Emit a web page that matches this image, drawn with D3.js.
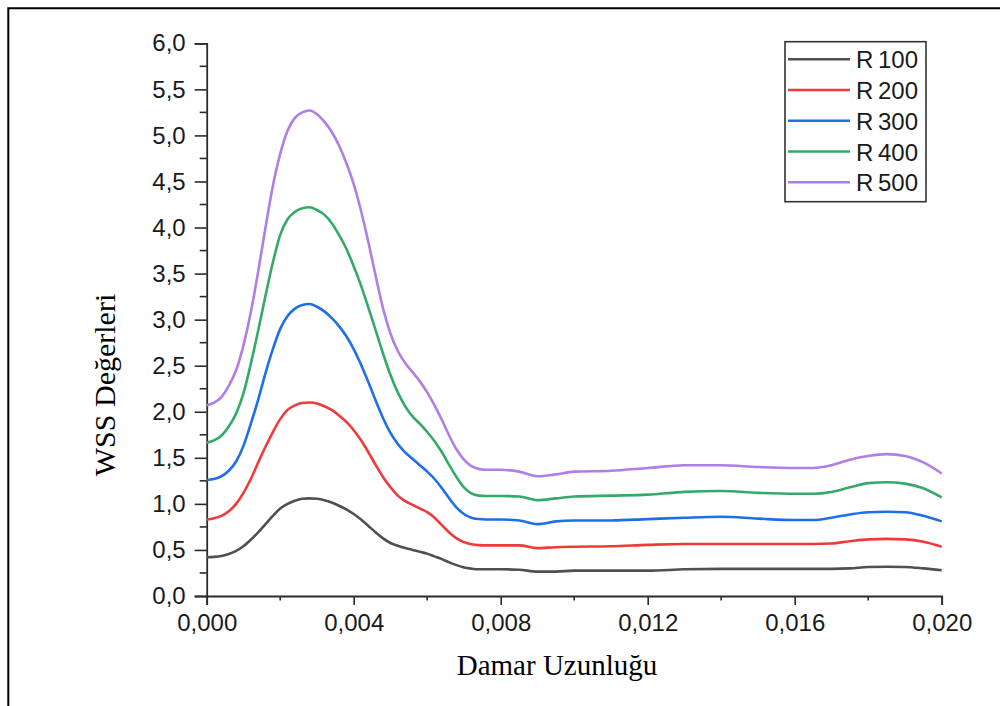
<!DOCTYPE html>
<html><head><meta charset="utf-8">
<script src="https://cdn.jsdelivr.net/npm/d3@7/dist/d3.min.js"></script>
<style>
html,body{margin:0;padding:0;background:#fff;}
svg{display:block;}
.tick-label{font-family:"Liberation Sans",Arial,sans-serif;font-size:24px;fill:#1a1a1a;}
.axis-title{font-family:"Liberation Serif","Times New Roman",serif;fill:#000;}
.legend-label{font-family:"Liberation Sans",Arial,sans-serif;font-size:24px;fill:#1a1a1a;word-spacing:-2px;}
</style></head>
<body>
<script>
// ---- data ----
const xValues = [0,0.0002,0.0004,0.0006,0.0008,0.001,0.0012,0.0014,0.0016,0.0018,0.002,0.0022,0.0024,0.0026,0.0028,0.003,0.0032,0.0034,0.0036,0.0038,0.004,0.0042,0.0044,0.0046,0.0048,0.005,0.0052,0.0054,0.0056,0.0058,0.006,0.0062,0.0064,0.0066,0.0068,0.007,0.0072,0.0074,0.0076,0.008,0.0085,0.009,0.0095,0.010,0.011,0.012,0.013,0.014,0.015,0.016,0.0165,0.017,0.0175,0.018,0.0185,0.019,0.0195,0.020];
const r100 = [0.42,0.425,0.435,0.455,0.49,0.54,0.61,0.69,0.78,0.87,0.95,1.00,1.035,1.055,1.06,1.055,1.04,1.015,0.98,0.94,0.89,0.83,0.76,0.69,0.625,0.575,0.545,0.52,0.50,0.48,0.46,0.43,0.40,0.365,0.335,0.31,0.297,0.29,0.29,0.29,0.285,0.265,0.265,0.275,0.275,0.275,0.29,0.295,0.295,0.295,0.295,0.295,0.30,0.315,0.318,0.315,0.30,0.28];
const r200 = [0.83,0.845,0.87,0.92,1.00,1.12,1.27,1.45,1.62,1.78,1.92,2.02,2.07,2.095,2.10,2.09,2.06,2.02,1.96,1.89,1.80,1.69,1.56,1.42,1.29,1.18,1.09,1.03,0.99,0.95,0.91,0.85,0.77,0.69,0.625,0.585,0.562,0.552,0.55,0.55,0.55,0.52,0.53,0.535,0.54,0.555,0.565,0.565,0.565,0.565,0.565,0.57,0.595,0.615,0.62,0.615,0.59,0.535];
const r300 = [1.26,1.27,1.30,1.36,1.46,1.63,1.87,2.13,2.42,2.68,2.90,3.04,3.12,3.16,3.17,3.14,3.09,3.02,2.93,2.82,2.68,2.51,2.32,2.12,1.93,1.77,1.65,1.56,1.49,1.42,1.35,1.27,1.17,1.06,0.96,0.89,0.85,0.835,0.83,0.83,0.82,0.78,0.81,0.82,0.82,0.835,0.85,0.86,0.84,0.825,0.825,0.85,0.885,0.91,0.915,0.91,0.87,0.81];
const r400 = [1.665,1.69,1.74,1.84,1.98,2.20,2.52,2.88,3.26,3.62,3.92,4.09,4.17,4.21,4.22,4.19,4.14,4.05,3.92,3.77,3.58,3.37,3.13,2.88,2.63,2.40,2.21,2.06,1.95,1.87,1.78,1.68,1.56,1.42,1.29,1.18,1.115,1.09,1.085,1.085,1.08,1.04,1.06,1.08,1.09,1.10,1.13,1.14,1.12,1.11,1.11,1.13,1.18,1.225,1.235,1.22,1.17,1.07];
const r500 = [2.07,2.10,2.16,2.28,2.45,2.72,3.08,3.52,4.00,4.45,4.80,5.05,5.19,5.25,5.27,5.23,5.15,5.04,4.89,4.70,4.47,4.18,3.84,3.47,3.12,2.85,2.66,2.53,2.43,2.33,2.21,2.07,1.91,1.74,1.59,1.48,1.41,1.38,1.37,1.37,1.35,1.30,1.32,1.35,1.36,1.39,1.42,1.42,1.40,1.39,1.39,1.42,1.48,1.52,1.54,1.52,1.45,1.33];
const seriesNames = ["R 100","R 200","R 300","R 400","R 500"];
const seriesColors = ["#505050","#f03a3a","#1f6fe6","#35aa68","#b07ee6"];
const yTickValues = [0,0.5,1,1.5,2,2.5,3,3.5,4,4.5,5,5.5,6];
const xTickValues = [0,0.004,0.008,0.012,0.016,0.020];
const xTitle = "Damar Uzunluğu";
const yTitle = "WSS Değerleri";

const allSeries = [r100,r200,r300,r400,r500];

// ---- layout ----
const W = 1000, H = 706;
const svg = d3.select("body").append("svg").attr("width",W).attr("height",H);
const x = d3.scaleLinear().domain([0,0.02]).range([206.7,941.7]);
const y = d3.scaleLinear().domain([0,6]).range([596,43.3]);
const loc = d3.formatLocale({decimal:",",thousands:".",grouping:[3],currency:["",""]});
const fy = loc.format(".1f"), fx = loc.format(".3f");

// outer frame (left and top)
svg.append("path").attr("d","M8.3,706 V8.3 H1000").attr("fill","none").attr("stroke","#000").attr("stroke-width",2);

// minor ticks
const yMinor = d3.range(0.25,6,0.5);
const xMinor = d3.range(0.002,0.02,0.004);
const axisColor = "#2b2b2b";
svg.append("g").selectAll("line").data(yMinor).join("line")
  .attr("x1",x(0)-7).attr("x2",x(0)).attr("y1",d=>y(d)).attr("y2",d=>y(d))
  .attr("stroke",axisColor).attr("stroke-width",1.6);
svg.append("g").selectAll("line").data(xMinor).join("line")
  .attr("x1",d=>x(d)).attr("x2",d=>x(d)).attr("y1",y(0)).attr("y2",y(0)+4.5)
  .attr("stroke",axisColor).attr("stroke-width",1.6);

// y axis
const yAxis = d3.axisLeft(y).tickValues(yTickValues).tickFormat(fy).tickSize(12).tickPadding(9);
const gy = svg.append("g").attr("transform",`translate(${x(0)},0)`).call(yAxis);
gy.select(".domain").attr("stroke",axisColor).attr("stroke-width",1.8);
gy.selectAll(".tick line").attr("stroke",axisColor).attr("stroke-width",1.6);
gy.selectAll(".tick text").attr("class","tick-label").attr("dy","0.32em").style("font-size","24px").style("font-family","'Liberation Sans',Arial,sans-serif").attr("fill","#1a1a1a");

// x axis
const xAxis = d3.axisBottom(x).tickValues(xTickValues).tickFormat(fx).tickSize(9).tickPadding(9);
const gx = svg.append("g").attr("transform",`translate(0,${y(0)})`).call(xAxis);
gx.select(".domain").attr("stroke",axisColor).attr("stroke-width",1.8);
gx.selectAll(".tick line").attr("stroke",axisColor).attr("stroke-width",1.6);
gx.selectAll(".tick text").attr("class","tick-label").style("font-size","24px").style("font-family","'Liberation Sans',Arial,sans-serif").attr("fill","#1a1a1a");

// lines
const line = d3.line().x((d,i)=>x(xValues[i])).y(d=>y(d)).curve(d3.curveMonotoneX);
svg.append("g").selectAll("path").data(allSeries).join("path")
  .attr("d",d=>line(d)).attr("fill","none")
  .attr("stroke",(d,i)=>seriesColors[i]).attr("stroke-width",2.6).attr("stroke-linejoin","round");

// axis titles
svg.append("text").attr("class","axis-title").style("font-size","29px").attr("x",557).attr("y",675).attr("text-anchor","middle").text(xTitle);
svg.append("text").attr("class","axis-title").style("font-size","30px").attr("transform","translate(115,385) rotate(-90)").attr("text-anchor","middle").text(yTitle);

// legend
const lg = svg.append("g");
lg.append("rect").attr("x",785).attr("y",41.7).attr("width",141).attr("height",160)
  .attr("fill","#fff").attr("stroke","#333").attr("stroke-width",1.6);
const rowY = d3.scaleLinear().domain([0,4]).range([59.3,182.3]);
seriesNames.forEach((n,i)=>{
  lg.append("line").attr("x1",788).attr("x2",850).attr("y1",rowY(i)).attr("y2",rowY(i))
    .attr("stroke",seriesColors[i]).attr("stroke-width",2.6);
  lg.append("text").attr("class","legend-label").attr("x",856).attr("y",rowY(i)+9).text(n);
});
</script>
</body></html>
